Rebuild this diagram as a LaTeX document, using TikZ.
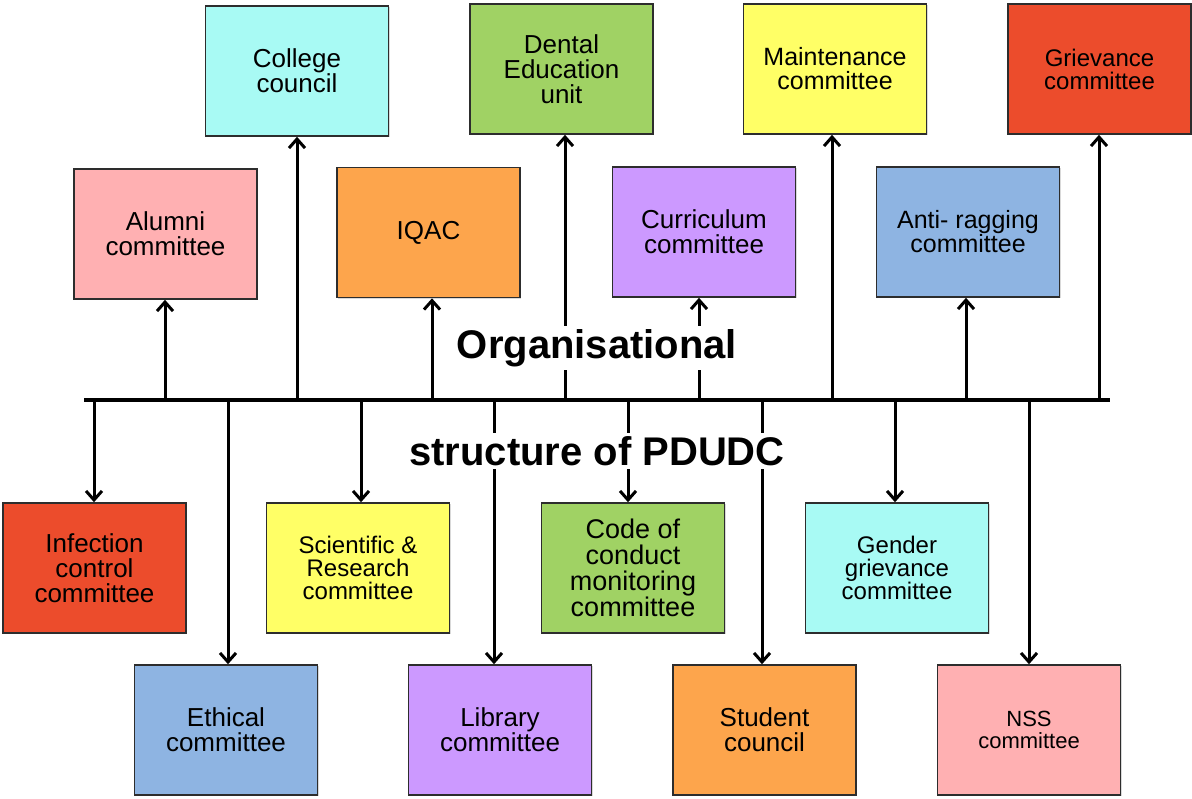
\documentclass[tikz,border=0pt]{standalone}
\usepackage{fontspec}
\setmainfont{Liberation Sans}
\usetikzlibrary{arrows.meta,shadows}
\definecolor{cAqua}{RGB}{168,250,244}
\definecolor{cGreen}{RGB}{160,210,100}
\definecolor{cYellow}{RGB}{255,255,102}
\definecolor{cRed}{RGB}{236,76,44}
\definecolor{cPink}{RGB}{255,176,178}
\definecolor{cOrange}{RGB}{253,165,76}
\definecolor{cPurple}{RGB}{204,153,255}
\definecolor{cBlue}{RGB}{142,180,226}
\definecolor{cEdge}{RGB}{45,45,45}
\tikzset{
  box/.style={draw=cEdge, line width=0.8pt, minimum width=91.5pt, minimum height=65pt,
    align=center, inner sep=0pt, font=\fontsize{13}{12.5}\selectfont,
    drop shadow={shadow xshift=0.5pt,shadow yshift=-0.7pt,opacity=0.3}},
  smallbox/.style={font=\fontsize{12}{11.5}\selectfont},
  tinybox/.style={font=\fontsize{11}{11}\selectfont},
  bus/.style={line width=2.2pt},
  arr/.style={line width=1.5pt, -{Straight Barb[length=4.5pt,width=8pt]}},
  title/.style={fill=white, inner sep=1.5pt, font=\fontsize{20}{21}\selectfont\bfseries}
}
\begin{document}
\begin{tikzpicture}[x=0.5pt,y=-0.5pt]
\useasboundingbox (0,0) rectangle (1192,798);
% top row
\node[box, fill=cAqua] (college) at (297,71) {College\\council};
\node[box, fill=cGreen] (dental) at (561.5,69) {Dental\\Education\\unit};
\node[box, fill=cYellow, font=\fontsize{12.5}{12}\selectfont] (maint) at (835,69) {Maintenance\\committee};
\node[box, fill=cRed, smallbox] (griev) at (1099.5,69) {Grievance\\committee};
% second row
\node[box, fill=cPink] (alumni) at (165.5,234) {Alumni\\committee};
\node[box, fill=cOrange] (iqac) at (428.5,232.5) {IQAC};
\node[box, fill=cPurple] (curr) at (704,232) {Curriculum\\committee};
\node[box, fill=cBlue, font=\fontsize{12.5}{12}\selectfont] (anti) at (968,232) {Anti- ragging\\committee};
% third row
\node[box, fill=cRed] (infect) at (94.5,568) {Infection\\control\\committee};
\node[box, fill=cYellow, smallbox] (sci) at (358,568) {Scientific \&\\Research\\committee};
\node[box, fill=cGreen, font=\fontsize{13.5}{13}\selectfont] (code) at (633,568) {Code of\\conduct\\monitoring\\committee};
\node[box, fill=cAqua, smallbox] (gender) at (897,568) {Gender\\grievance\\committee};
% bottom row
\node[box, fill=cBlue] (ethical) at (226,730) {Ethical\\committee};
\node[box, fill=cPurple] (library) at (500,730) {Library\\committee};
\node[box, fill=cOrange] (student) at (764.5,730) {Student\\council};
\node[box, fill=cPink, tinybox] (nss) at (1029,730) {NSS\\committee};
% bus
\coordinate (busL) at (84,400);
\coordinate (busR) at (1110,400);
\draw[bus] (busL) -- (busR);
% up connection points
\coordinate (u1) at (165,400);
\coordinate (u2) at (297,400);
\coordinate (u3) at (432,400);
\coordinate (u4) at (565,400);
\coordinate (u5) at (699,400);
\coordinate (u6) at (832,400);
\coordinate (u7) at (966,400);
\coordinate (u8) at (1099,400);
% down connection points
\coordinate (d1) at (94,400);
\coordinate (d2) at (228,400);
\coordinate (d3) at (361,400);
\coordinate (d4) at (494,400);
\coordinate (d5) at (628,400);
\coordinate (d6) at (762,400);
\coordinate (d7) at (895,400);
\coordinate (d8) at (1029,400);
\draw[arr] (u1) -- (u1 |- alumni.south);
\draw[arr] (u2) -- (u2 |- college.south);
\draw[arr] (u3) -- (u3 |- iqac.south);
\draw[arr] (u4) -- (u4 |- dental.south);
\draw[arr] (u5) -- (u5 |- curr.south);
\draw[arr] (u6) -- (u6 |- maint.south);
\draw[arr] (u7) -- (u7 |- anti.south);
\draw[arr] (u8) -- (u8 |- griev.south);
\draw[arr] (d1) -- (d1 |- infect.north);
\draw[arr] (d2) -- (d2 |- ethical.north);
\draw[arr] (d3) -- (d3 |- sci.north);
\draw[arr] (d4) -- (d4 |- library.north);
\draw[arr] (d5) -- (d5 |- code.north);
\draw[arr] (d6) -- (d6 |- student.north);
\draw[arr] (d7) -- (d7 |- gender.north);
\draw[arr] (d8) -- (d8 |- nss.north);
% titles
\node[title] (t1) at (597,348) {Organisational};
\node[title] (t2) at (597,451) {structure of PDUDC};
\end{tikzpicture}
\end{document}
